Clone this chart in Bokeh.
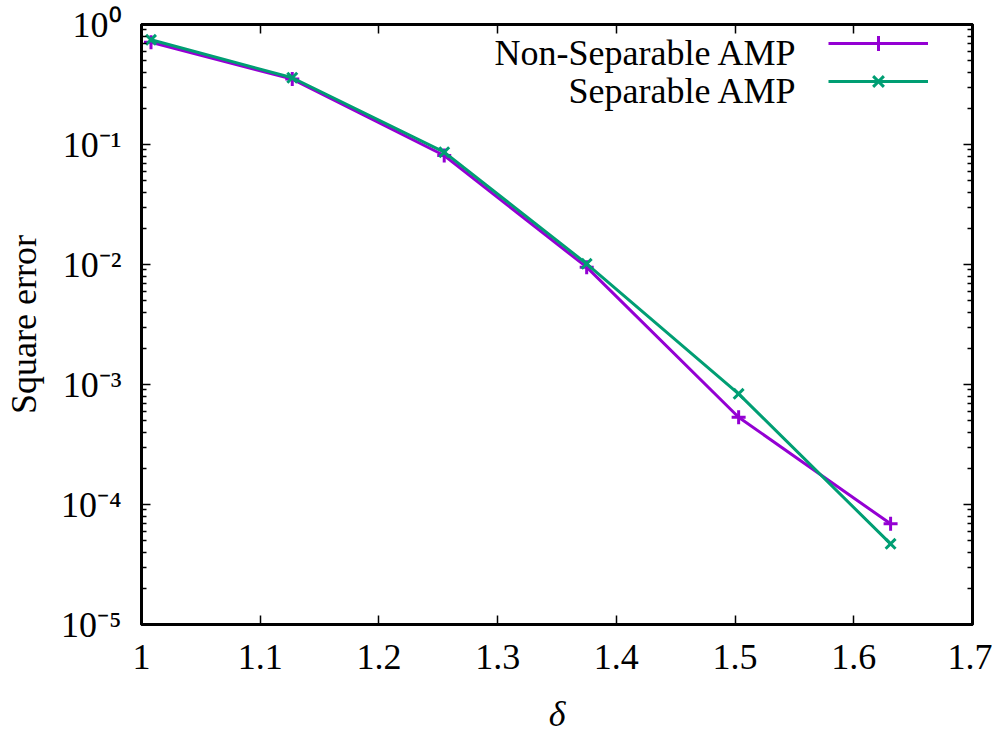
from bokeh.plotting import figure
from bokeh.embed import file_html
from bokeh.resources import INLINE
from bokeh.models import (FixedTicker, LinearAxis, LogAxis, Legend, LegendItem,
                          Label, CustomJSTickFormatter)
from bokeh.core.properties import value

# ---- data ----
delta = [1.008, 1.127, 1.255, 1.375, 1.503, 1.631]
non_separable = [0.712, 0.351, 0.081, 0.0095, 0.000534, 0.000069]
separable = [0.746, 0.360, 0.0863, 0.01013, 0.000836, 0.000047]

x_ticks = [1.0, 1.1, 1.2, 1.3, 1.4, 1.5, 1.6, 1.7]
x_tick_labels = ["1", "1.1", "1.2", "1.3", "1.4", "1.5", "1.6", "1.7"]
y_ticks = [1e-5, 1e-4, 1e-3, 1e-2, 1e-1, 1e0]
y_tick_labels = ["10\u207b\u2075", "10\u207b\u2074", "10\u207b\u00b3", "10\u207b\u00b2", "10\u207b\u00b9", "10\u2070"]
series_names = ["Non-Separable AMP", "Separable AMP"]
colors = ["#9400d3", "#009e73"]

FONT = "'Liberation Serif', 'Times New Roman', serif"
FS = "36px"

y_minor = [m * 10.0 ** e for e in range(-5, 0) for m in range(2, 10)]

p = figure(width=980, height=725, x_axis_type="linear", y_axis_type="log",
           x_range=(1.0, 1.7), y_range=(1e-5, 1.0),
           output_backend="svg", toolbar_location=None,
           frame_width=831, frame_height=600,
           min_border_left=129, min_border_top=24, min_border_right=20,
           min_border_bottom=101)
p.grid.visible = False
p.outline_line_color = "black"
p.outline_line_width = 3
p.background_fill_color = "white"
p.border_fill_color = "white"

xt = FixedTicker(ticks=x_ticks)
yt = FixedTicker(ticks=y_ticks, minor_ticks=y_minor)

xa = p.xaxis[0]
xa.ticker = xt
xa.major_label_overrides = {t: l for t, l in zip(x_ticks, x_tick_labels)}
xa.axis_label = "\u03b4"
xa.axis_label_text_font_style = "italic"

ya = p.yaxis[0]
ya.ticker = yt
ya.major_label_overrides = {t: l for t, l in zip(y_ticks, y_tick_labels)}
ya.axis_label = "Square error"
ya.axis_label_text_font_style = "normal"

for ax in (xa, ya):
    ax.axis_line_width = 3
    ax.major_tick_in = 9
    ax.major_tick_out = 0
    ax.minor_tick_in = 5
    ax.minor_tick_out = 0
    ax.major_tick_line_width = 1.5
    ax.minor_tick_line_width = 1.5
    ax.major_label_text_font = FONT
    ax.major_label_text_font_size = FS
    ax.major_label_text_color = "black"
    ax.axis_label_text_font = FONT
    ax.axis_label_text_font_size = FS
    ax.axis_label_text_color = "black"
xa.minor_tick_line_color = None
xa.major_label_standoff = 20
xa.axis_label_standoff = 22
ya.major_label_standoff = 20
ya.axis_label_standoff = 14

blank = CustomJSTickFormatter(code="return ''")
top = LinearAxis(ticker=xt, formatter=blank, axis_line_width=3, major_tick_in=9,
                 major_tick_out=0, minor_tick_line_color=None, major_tick_line_width=1.5,
                 major_label_standoff=0)
right = LogAxis(ticker=yt, formatter=blank, axis_line_width=3, major_tick_in=9,
                major_tick_out=0, minor_tick_in=5, minor_tick_out=0,
                major_tick_line_width=1.5, minor_tick_line_width=1.5,
                major_label_standoff=0)
p.add_layout(top, "above")
p.add_layout(right, "right")

items = []
for ys, name, col, mk in zip([non_separable, separable], series_names, colors, ["cross", "x"]):
    ln = p.line(delta, ys, line_color=col, line_width=3)
    sc = p.scatter(delta, ys, marker=mk, size=14, line_color=col, line_width=3)
    items.append(LegendItem(label=value(""), renderers=[ln, sc]))

legend = Legend(items=items, location=(687, 524), orientation="vertical",
                padding=0, margin=0, spacing=0, glyph_width=100, glyph_height=38,
                label_width=0, label_height=38, label_standoff=0,
                background_fill_alpha=0, border_line_color=None)
p.add_layout(legend, "center")

for i, name in enumerate(series_names):
    p.add_layout(Label(x=656, y=572 - 38 * i, x_units="screen", y_units="screen",
                       text=name, text_align="right", text_baseline="middle",
                       text_font=FONT, text_font_size=FS, text_color="black"))

open("out.html", "w").write(file_html(p, INLINE))
